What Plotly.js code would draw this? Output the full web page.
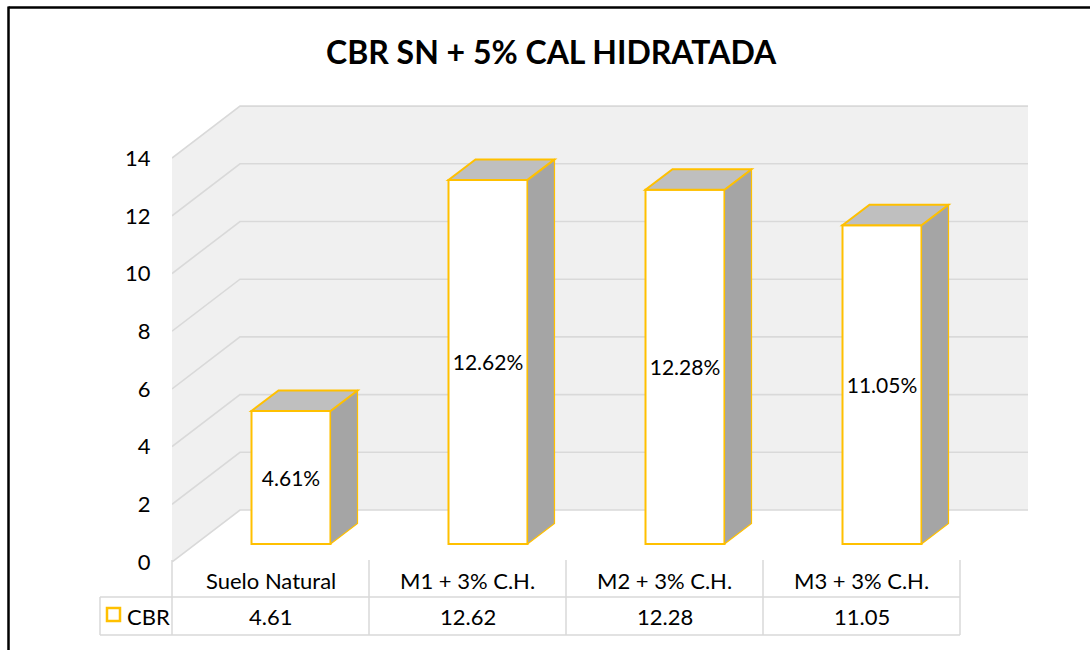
<!DOCTYPE html>
<html>
<head>
<meta charset="utf-8">
<script src="https://cdn.plot.ly/plotly-3.0.1.min.js"></script>
<style>html,body{margin:0;padding:0;background:#fff;}#chart{width:1090px;height:650px;}</style>
</head>
<body>
<div id="chart"></div>
<script>
// ---- data ----
const categories = ["Suelo Natural", "M1 + 3% C.H.", "M2 + 3% C.H.", "M3 + 3% C.H."];
const cbrValues = [4.61, 12.62, 12.28, 11.05];
const seriesName = "CBR";
const yTicks = [0, 2, 4, 6, 8, 10, 12, 14];
const chartTitle = "CBR SN + 5% CAL HIDRATADA";

// ---- layout geometry (pixels) ----
const W = 1090, H = 650;
const L = 172, R = 1028, T = 105, B = 562;
const colPx = 197;            // px per category on the front plane
const kPx = 28.85;            // px per value unit
const xMin = -0.5, xMax = xMin + (R - L) / colPx;
const yMax = (B - T) / kPx;
const wallDx = 68 / colPx, wallDy = 52 / kPx;       // depth of the walls
const barShift = 20.5 / colPx, barBase = 18 / kPx;  // front face position of bars
const barW = 79 / colPx;
const depDx = 27 / colPx, depDy = 20.5 / kPx;       // bar depth
const gold = "#FFC000";
const font = "Lato, 'Open Sans', sans-serif";

const py2paper = p => (B - p) / (B - T);
const px2paper = p => (p - L) / (R - L);
const xd2paper = xd => px2paper(L + (xd - xMin) * colPx);

const shapes = [];
// walls
const wallTop = yTicks[yTicks.length - 1];
shapes.push({type: "path", xref: "x", yref: "y", layer: "below",
  path: `M ${xMin},0 L ${xMin + wallDx},${wallDy} L ${xMin + wallDx},${wallTop + wallDy} L ${xMin},${wallTop} Z`,
  fillcolor: "#f0f0f0", line: {width: 0}});
shapes.push({type: "rect", xref: "x", yref: "y", layer: "below",
  x0: xMin + wallDx, x1: xMin + 4 + wallDx, y0: wallDy, y1: wallTop + wallDy,
  fillcolor: "#f0f0f0", line: {width: 0}});
// gridlines
yTicks.forEach(v => {
  shapes.push({type: "path", xref: "x", yref: "y", layer: "below",
    path: `M ${xMin},${v} L ${xMin + wallDx},${v + wallDy} L ${xMin + 4 + wallDx},${v + wallDy}`,
    line: {color: "#d9d9d9", width: 1.6}});
});
// bar top and side faces
cbrValues.forEach((v, i) => {
  const xl = i + barShift - barW / 2, xr = i + barShift + barW / 2;
  const yb = barBase, yt = barBase + v;
  shapes.push({type: "path", xref: "x", yref: "y", layer: "above",
    path: `M ${xr},${yb} L ${xr + depDx},${yb + depDy} L ${xr + depDx},${yt + depDy} L ${xr},${yt} Z`,
    fillcolor: "#a5a5a5", line: {color: gold, width: 1.2}});
  shapes.push({type: "path", xref: "x", yref: "y", layer: "above",
    path: `M ${xl},${yt} L ${xr},${yt} L ${xr + depDx},${yt + depDy} L ${xl + depDx},${yt + depDy} Z`,
    fillcolor: "#bfbfbf", line: {color: gold, width: 2}});
});
// data table (paper refs so nothing is clipped)
const tblTop = 560, tblMid = 597, tblBot = 635, legLeft = 100;
const tline = {color: "#d9d9d9", width: 1.5};
for (let j = 0; j <= categories.length; j++) {
  const xp = xd2paper(xMin + j);
  shapes.push({type: "line", xref: "paper", yref: "paper", x0: xp, x1: xp,
    y0: py2paper(tblTop), y1: py2paper(tblBot), line: tline});
}
shapes.push({type: "line", xref: "paper", yref: "paper", x0: px2paper(legLeft), x1: px2paper(legLeft),
  y0: py2paper(tblMid), y1: py2paper(tblBot), line: tline});
[tblMid, tblBot].forEach(p => shapes.push({type: "line", xref: "paper", yref: "paper",
  x0: px2paper(legLeft), x1: xd2paper(xMin + categories.length), y0: py2paper(p), y1: py2paper(p), line: tline}));
// legend key
shapes.push({type: "rect", xref: "paper", yref: "paper", x0: px2paper(107), x1: px2paper(120),
  y0: py2paper(621), y1: py2paper(608), line: {color: gold, width: 2.5}, fillcolor: "rgba(0,0,0,0)"});
// outer chart border (top and left)
shapes.push({type: "line", xref: "paper", yref: "paper", x0: px2paper(8.5), x1: px2paper(W + 5),
  y0: py2paper(7.5), y1: py2paper(7.5), line: {color: "#000", width: 2.5}});
shapes.push({type: "line", xref: "paper", yref: "paper", x0: px2paper(8.5), x1: px2paper(8.5),
  y0: py2paper(6.5), y1: py2paper(H + 5), line: {color: "#000", width: 2.5}});

const annotations = [];
categories.forEach((c, i) => {
  annotations.push({x: xd2paper(i), xref: "paper", y: py2paper(580), yref: "paper", text: c, showarrow: false,
    xanchor: "center", yanchor: "middle", font: {family: font, size: 22, color: "#000"}});
  annotations.push({x: xd2paper(i), xref: "paper", y: py2paper(616), yref: "paper", text: cbrValues[i].toFixed(2),
    showarrow: false, xanchor: "center", yanchor: "middle", font: {family: font, size: 22, color: "#000"}});
});
annotations.push({x: px2paper(125), xref: "paper", y: py2paper(616), yref: "paper", text: seriesName, showarrow: false,
  xanchor: "left", yanchor: "middle", font: {family: font, size: 22, color: "#000"}});
annotations.push({x: px2paper(551.5), xref: "paper", y: py2paper(51), yref: "paper", text: "<b>" + chartTitle + "</b>",
  showarrow: false, xanchor: "center", yanchor: "middle", font: {family: font, size: 32, color: "#000"}});

const trace = {
  type: "bar",
  x: categories.map((c, i) => i + barShift),
  y: cbrValues,
  base: cbrValues.map(() => barBase),
  width: barW,
  marker: {color: "#ffffff", line: {color: gold, width: 2}},
  text: cbrValues.map(v => v.toFixed(2) + "%"),
  textposition: "inside",
  insidetextanchor: "middle",
  constraintext: "none",
  textfont: {family: font, size: 21, color: "#000"},
  name: seriesName,
  hoverinfo: "skip"
};

const layout = {
  width: W, height: H,
  margin: {l: L, r: W - R, t: T, b: H - B, pad: 0},
  paper_bgcolor: "#fff", plot_bgcolor: "rgba(0,0,0,0)",
  showlegend: false,
  xaxis: {range: [xMin, xMax], visible: false, fixedrange: true},
  yaxis: {range: [0, yMax], tickvals: yTicks, ticktext: yTicks.map(String),
    showgrid: false, zeroline: false, showline: false,
    ticks: "outside", ticklen: 16, tickcolor: "rgba(0,0,0,0)",
    tickfont: {family: font, size: 22, color: "#000"}, fixedrange: true},
  shapes: shapes,
  annotations: annotations,
  hovermode: false
};

Plotly.newPlot("chart", [trace], layout, {displayModeBar: false, staticPlot: true});
</script>
</body>
</html>
